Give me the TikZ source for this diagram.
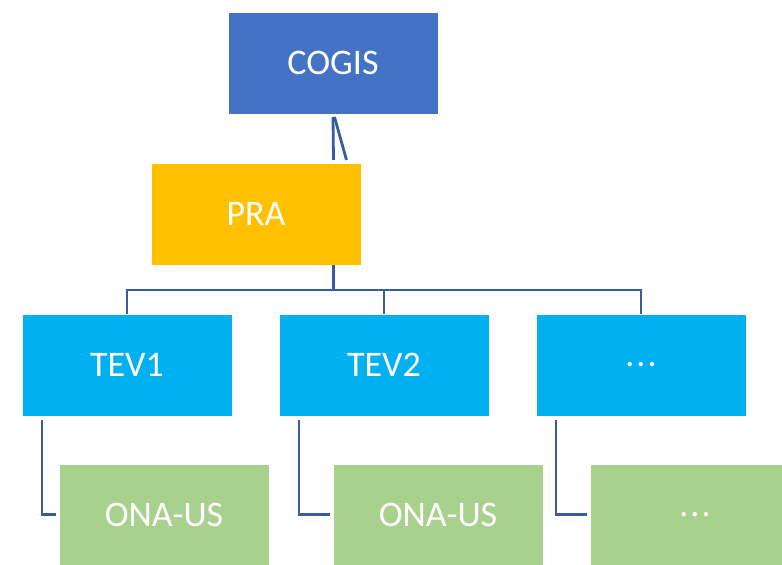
\documentclass[tikz,border=0pt]{standalone}
\usepackage{fontspec}
\setmainfont{Carlito}
\definecolor{cogisc}{HTML}{4472C4}
\definecolor{prac}{HTML}{FFC000}
\definecolor{tevc}{HTML}{00B0F0}
\definecolor{onac}{HTML}{A9D18E}
\definecolor{connc}{HTML}{3A5BA0}
\begin{document}
\begin{tikzpicture}[x=1pt,y=-1pt,
  box/.style={draw=white, line width=0.6pt, anchor=north west, inner sep=0pt, outer sep=0pt,
    minimum width=210pt, minimum height=102pt, text=white, font=\fontsize{36}{40}\selectfont},
  conn/.style={draw=connc, line width=2.8pt}]
\useasboundingbox (0,0) rectangle (782,565);
\clip (0,0) rectangle (782,565);
\node[box, fill=cogisc] (cogis) at (228,12) {COGIS};
\node[box, fill=prac] (pra) at (151,163) {PRA};
\node[box, fill=tevc] (tev1) at (22,314) {TEV1};
\node[box, fill=tevc] (tev2) at (279,314) {TEV2};
\node[box, fill=tevc] (tev3) at (536,314) {.\kern2pt.\kern2pt.};
\node[box, fill=onac, minimum height=101pt] (ona1) at (59,464) {ONA-US};
\node[box, fill=onac, minimum height=101pt] (ona2) at (333,464) {ONA-US};
\node[box, fill=onac, minimum height=101pt] (ona3) at (590,464) {.\kern2pt.\kern2pt.};
% COGIS - PRA
\draw[conn] ([yshift=-3pt]cogis.south) -- ([xshift=77.5pt,yshift=3pt]pra.north);
\draw[conn] ([xshift=1.5pt,yshift=-3pt]cogis.south) -- ([xshift=90.5pt,yshift=3pt]pra.north);
% PRA - TEV
\coordinate (bus) at ([xshift=77.5pt]pra.south);
\draw[conn] (bus) -- ++(0,25) -| (tev1.north);
\draw[conn] (bus) -- ++(0,25) -| (tev2.north);
\draw[conn] (bus) -- ++(0,25) -| (tev3.north);
% TEV - ONA
\draw[conn] ([xshift=20pt,yshift=-4pt]tev1.south west) |- ([xshift=-3pt]ona1.west);
\draw[conn] ([xshift=20pt,yshift=-4pt]tev2.south west) |- ([xshift=-3pt]ona2.west);
\draw[conn] ([xshift=20pt,yshift=-4pt]tev3.south west) |- ([xshift=-3pt]ona3.west);
\end{tikzpicture}
\end{document}
